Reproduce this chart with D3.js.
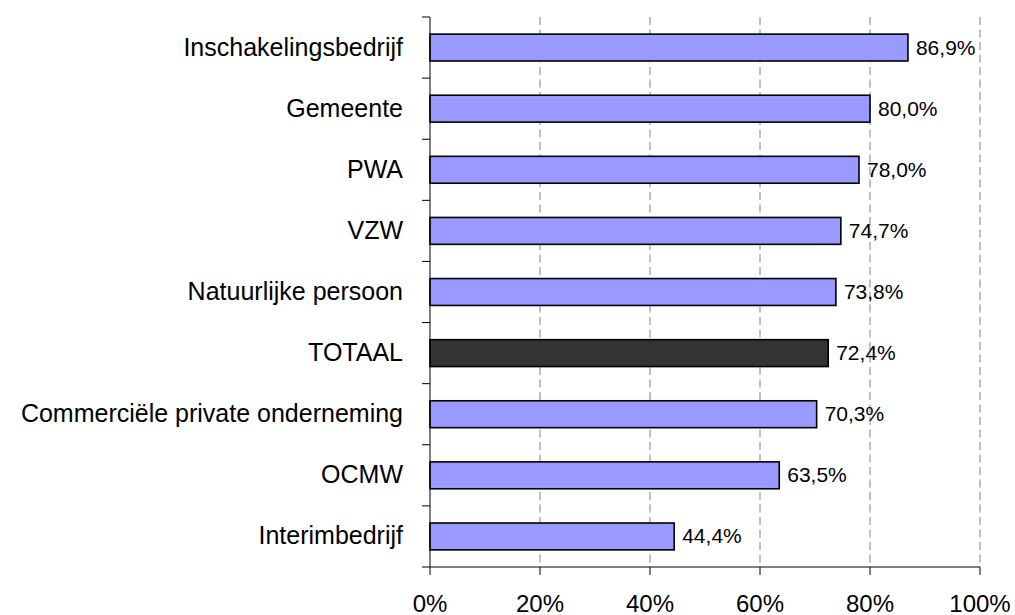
<!DOCTYPE html>
<html>
<head>
<meta charset="utf-8">
<script src="https://cdn.jsdelivr.net/npm/d3@7"></script>
<style>
  body { margin: 0; background: #fff; }
  text { font-family: "Liberation Sans", Arial, sans-serif; fill: #000; }
</style>
</head>
<body>
<div id="chart"></div>
<script>
// categorieën van boven naar onder
const categories = ["Inschakelingsbedrijf", "Gemeente", "PWA", "VZW", "Natuurlijke persoon",
  "TOTAAL", "Commerciële private onderneming", "OCMW", "Interimbedrijf"];
const values = [86.9, 80.0, 78.0, 74.7, 73.8, 72.4, 70.3, 63.5, 44.4];
const xTicks = [0, 20, 40, 60, 80, 100];

const width = 1015, height = 615;
const margin = { top: 17, left: 430, right: 35, bottom: 48 };

const svg = d3.select("#chart").append("svg")
  .attr("width", width)
  .attr("height", height);

const x = d3.scaleLinear().domain([0, 100]).range([margin.left, width - margin.right]);
const y = d3.scaleBand().domain(categories)
  .range([margin.top, height - margin.bottom])
  .paddingInner(0.56)
  .paddingOuter(0.28);

const yTop = margin.top, yBottom = height - margin.bottom;
const fmt = v => v.toFixed(1).replace(".", ",") + "%";

// rasterlijnen (gestreept)
svg.append("g")
  .selectAll("line")
  .data(xTicks.filter(d => d > 0))
  .join("line")
  .attr("x1", d => x(d)).attr("x2", d => x(d))
  .attr("y1", yTop).attr("y2", yBottom)
  .attr("stroke", "#808080")
  .attr("stroke-width", 1)
  .attr("stroke-dasharray", "8,4.5");

// balken
svg.append("g")
  .selectAll("rect")
  .data(categories)
  .join("rect")
  .attr("x", x(0))
  .attr("y", d => y(d))
  .attr("width", (d, i) => x(values[i]) - x(0))
  .attr("height", y.bandwidth())
  .attr("fill", d => d === "TOTAAL" ? "#333333" : "#9999FF")
  .attr("stroke", "#000")
  .attr("stroke-width", 1.6);

// waardelabels
svg.append("g")
  .selectAll("text")
  .data(categories)
  .join("text")
  .attr("x", (d, i) => x(values[i]) + 8)
  .attr("y", d => y(d) + y.bandwidth() / 2 + 7)
  .style("font-size", "21px")
  .text((d, i) => fmt(values[i]));

// x-as
const xAxis = svg.append("g").attr("transform", `translate(0,${yBottom})`);
xAxis.append("line")
  .attr("x1", x(0)).attr("x2", x(100))
  .attr("stroke", "#000");
xAxis.selectAll(".tick")
  .data(xTicks)
  .join("line")
  .attr("x1", d => x(d)).attr("x2", d => x(d))
  .attr("y1", 0).attr("y2", 8)
  .attr("stroke", "#000");
xAxis.selectAll("text")
  .data(xTicks)
  .join("text")
  .attr("x", d => x(d))
  .attr("y", 44.5)
  .attr("text-anchor", "middle")
  .style("font-size", "24px")
  .text(d => d + "%");

// y-as
const yAxis = svg.append("g");
yAxis.append("line")
  .attr("x1", x(0)).attr("x2", x(0))
  .attr("y1", yTop).attr("y2", yBottom)
  .attr("stroke", "#000");
const boundaries = categories.map(d => y(d) - y.step() * y.paddingInner() / 2).concat([yBottom]);
yAxis.selectAll(".tk")
  .data(boundaries)
  .join("line")
  .attr("x1", x(0) - 8).attr("x2", x(0))
  .attr("y1", d => d).attr("y2", d => d)
  .attr("stroke", "#000");
yAxis.selectAll("text")
  .data(categories)
  .join("text")
  .attr("x", 403)
  .attr("y", d => y(d) + y.bandwidth() / 2 + 8)
  .attr("text-anchor", "end")
  .style("font-size", "25px")
  .text(d => d);
</script>
</body>
</html>
